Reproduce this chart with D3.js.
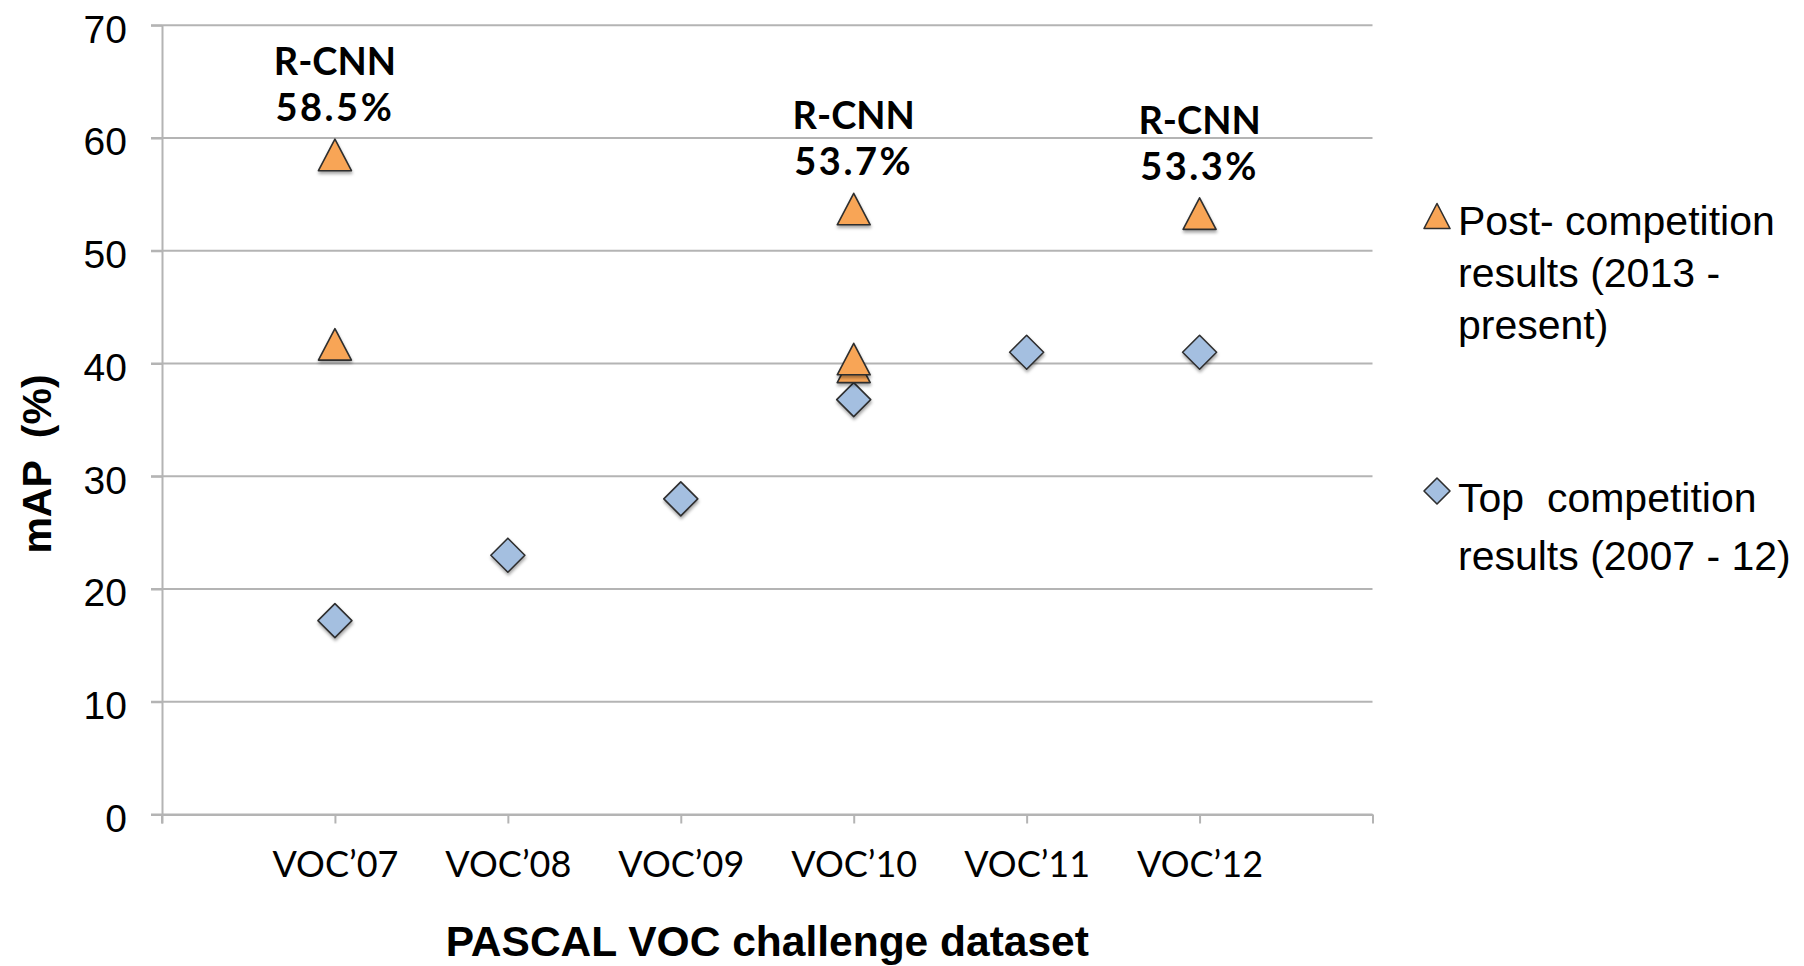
<!DOCTYPE html>
<html>
<head>
<meta charset="utf-8">
<script src="https://cdn.jsdelivr.net/npm/d3@7/dist/d3.min.js"></script>
<style>
  html, body { margin: 0; padding: 0; background: #fff; }
  svg { display: block; }
</style>
</head>
<body>
<svg id="chart" width="1804" height="966"></svg>
<script>
// Dataset labels along the x axis (positions 1..6)
const categories = ["VOC\u201907", "VOC\u201908", "VOC\u201909", "VOC\u201910", "VOC\u201911", "VOC\u201912"];
const yTicks = [0, 10, 20, 30, 40, 50, 60, 70];

// Top competition results (2007 - 12): one per dataset
const topX = [1, 2, 3, 4, 5, 6];
const topValues = [17.2, 23.0, 28.0, 36.8, 41.0, 41.0];

// Post-competition results (2013 - present), other methods
const postX = [1, 4, 4];
const postValues = [41.7, 39.7, 40.4];

// Post-competition R-CNN results (annotated)
const rcnnX = [1, 4, 6];
const rcnnValues = [58.5, 53.7, 53.3];

const legendItems = [
  { shape: "triangle", lines: ["Post- competition", "results (2013 -", "present)"] },
  { shape: "diamond",  lines: ["Top  competition", "results (2007 - 12)"] }
];

const COLORS = { orange: "#F8A556", blue: "#A4BFE0", stroke: "#2e2e2e", grid: "#b4b4b4" };
const ARIAL = "'Liberation Sans', Arial, Helvetica, sans-serif";
const HUMANIST = "Lato, 'Open Sans', sans-serif";

const svg = d3.select("#chart");

const x = d3.scaleLinear().domain([0, 7]).range([162, 1372.5]);
const y = d3.scaleLinear().domain([0, 70]).range([814.5, 25.3]);

// Drop shadow under markers
const defs = svg.append("defs");
const f = defs.append("filter").attr("id", "shadow")
  .attr("x", "-30%").attr("y", "-30%").attr("width", "160%").attr("height", "170%");
f.append("feDropShadow").attr("dx", 0.5).attr("dy", 2.5).attr("stdDeviation", 1.6)
  .attr("flood-color", "#000").attr("flood-opacity", 0.35);

// Horizontal gridlines
svg.append("g").selectAll("line").data(yTicks).join("line")
  .attr("x1", x(0) - 11).attr("x2", x(7))
  .attr("y1", d => y(d)).attr("y2", d => y(d))
  .attr("stroke", COLORS.grid).attr("stroke-width", 2);

// Y axis
const yAxis = svg.append("g").attr("transform", `translate(${x(0)},0)`)
  .call(d3.axisLeft(y).tickValues(yTicks).tickSize(11).tickSizeOuter(0).tickPadding(24));
yAxis.selectAll("path.domain, .tick line").attr("stroke", COLORS.grid).attr("stroke-width", 2);
yAxis.selectAll(".tick text")
  .attr("font-family", ARIAL).attr("font-size", 39).attr("fill", "#000")
  .attr("dy", "0.43em");

// X axis
const xAxis = svg.append("g").attr("transform", `translate(0,${y(0)})`)
  .call(d3.axisBottom(x).tickValues(d3.range(0, 8)).tickSize(9).tickSizeOuter(0)
    .tickFormat(i => categories[i - 1] || ""));
xAxis.selectAll("path.domain, .tick line").attr("stroke", COLORS.grid).attr("stroke-width", 2);
xAxis.selectAll(".tick text")
  .attr("font-family", HUMANIST).attr("font-size", 36).attr("fill", "#000")
  .attr("y", 0).attr("dy", 0)
  .attr("transform", `translate(0,${877 - y(0)})`);
// Extend y-axis line down to the tick length
svg.append("line").attr("x1", x(0)).attr("x2", x(0)).attr("y1", y(0)).attr("y2", y(0) + 9)
  .attr("stroke", COLORS.grid).attr("stroke-width", 2);

// Axis titles
svg.append("text")
  .attr("transform", `translate(51,464) rotate(-90)`)
  .attr("text-anchor", "middle")
  .attr("font-family", ARIAL).attr("font-weight", "bold").attr("font-size", 41)
  .style("white-space", "pre")
  .text("mAP  (%)");

svg.append("text")
  .attr("x", (x(0) + x(7)) / 2).attr("y", 956)
  .attr("text-anchor", "middle")
  .attr("font-family", ARIAL).attr("font-weight", "bold").attr("font-size", 42.5)
  .text("PASCAL VOC challenge dataset");

// Marker path builders (centred on bounding box)
function trianglePath(cx, cy, w, h) {
  return `M${cx},${cy - h / 2}L${cx + w / 2},${cy + h / 2}L${cx - w / 2},${cy + h / 2}Z`;
}
function diamondPath(cx, cy, r) {
  return `M${cx},${cy - r}L${cx + r},${cy}L${cx},${cy + r}L${cx - r},${cy}Z`;
}

const marks = svg.append("g");

// Top competition diamonds
marks.selectAll("path.top").data(topValues.map((v, i) => ({ x: topX[i], v }))).join("path")
  .attr("class", "top")
  .attr("d", d => diamondPath(x(d.x), y(d.v), 17))
  .attr("fill", COLORS.blue).attr("stroke", COLORS.stroke).attr("stroke-width", 1.6)
  .attr("stroke-linejoin", "round")
  .attr("filter", "url(#shadow)");

// Post-competition triangles (other methods, then R-CNN)
const postPoints = postValues.map((v, i) => ({ x: postX[i], v }))
  .concat(rcnnValues.map((v, i) => ({ x: rcnnX[i], v })));
marks.selectAll("path.post").data(postPoints).join("path")
  .attr("class", "post")
  .attr("d", d => trianglePath(x(d.x), y(d.v), 33, 31.5))
  .attr("fill", COLORS.orange).attr("stroke", COLORS.stroke).attr("stroke-width", 1.6)
  .attr("stroke-linejoin", "round")
  .attr("filter", "url(#shadow)");

// R-CNN annotations
const ann = svg.append("g").selectAll("text")
  .data(rcnnValues.map((v, i) => ({ x: rcnnX[i], v }))).join("text")
  .attr("text-anchor", "middle")
  .attr("font-family", HUMANIST).attr("font-weight", "bold").attr("font-size", 38)
  .attr("fill", "#000");
ann.append("tspan").attr("x", d => x(d.x)).attr("y", d => y(d.v) - 80).text("R-CNN");
ann.append("tspan").attr("x", d => x(d.x)).attr("y", d => y(d.v) - 34)
  .attr("letter-spacing", 2.5)
  .text(d => d3.format(".1f")(d.v) + "%");

// Legend
const legendPos = [
  { mx: 1437, my: 216, tx: 1458, ty: 235, lh: 52 },
  { mx: 1437, my: 491, tx: 1458, ty: 512, lh: 58 }
];
const legend = svg.append("g");
legendItems.forEach((item, i) => {
  const p = legendPos[i];
  legend.append("path")
    .attr("d", item.shape === "triangle" ? trianglePath(p.mx, p.my, 26, 25) : diamondPath(p.mx, p.my, 13))
    .attr("fill", item.shape === "triangle" ? COLORS.orange : COLORS.blue)
    .attr("stroke", COLORS.stroke).attr("stroke-width", 1.6).attr("stroke-linejoin", "round");
  const t = legend.append("text")
    .attr("font-family", ARIAL).attr("font-size", 41).attr("fill", "#000")
    .style("white-space", "pre");
  item.lines.forEach((line, j) => {
    t.append("tspan").attr("x", p.tx).attr("y", p.ty + j * p.lh).text(line);
  });
});
</script>
</body>
</html>
